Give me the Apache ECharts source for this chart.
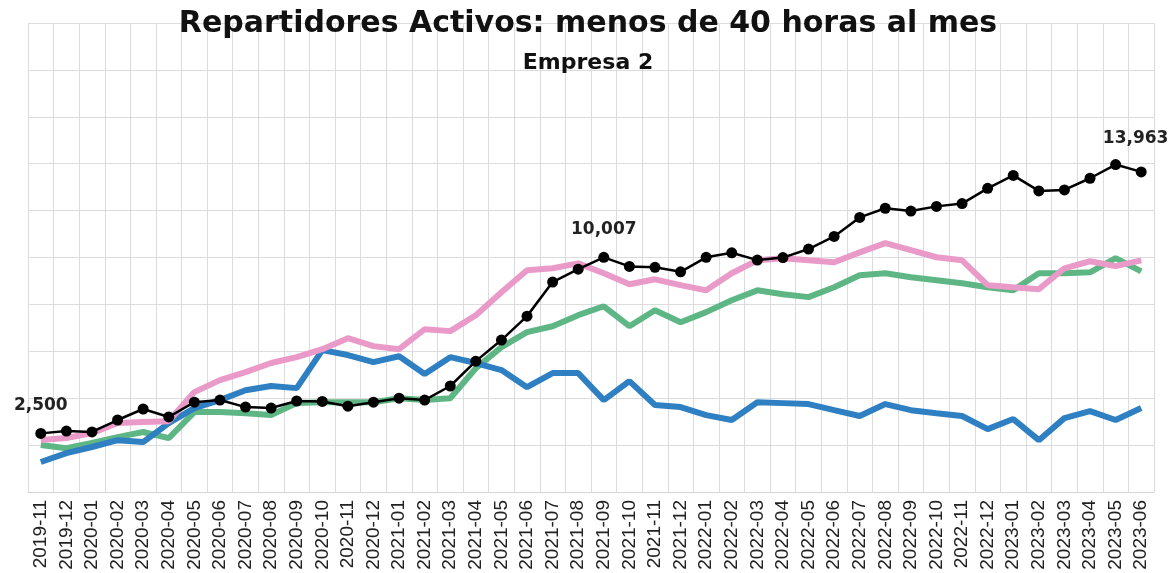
<!DOCTYPE html>
<html>
<head>
<meta charset="utf-8">
<script src="https://cdn.jsdelivr.net/npm/echarts@6/dist/echarts.min.js"></script>
<style>
  html, body { margin: 0; padding: 0; background: #fff; overflow: hidden; }
  #chart-container { width: 1176px; height: 573px; }
</style>
</head>
<body>
<div id="chart-container"></div>
<script>
var months = [
  "2019-11", "2019-12",
  "2020-01", "2020-02", "2020-03", "2020-04", "2020-05", "2020-06",
  "2020-07", "2020-08", "2020-09", "2020-10", "2020-11", "2020-12",
  "2021-01", "2021-02", "2021-03", "2021-04", "2021-05", "2021-06",
  "2021-07", "2021-08", "2021-09", "2021-10", "2021-11", "2021-12",
  "2022-01", "2022-02", "2022-03", "2022-04", "2022-05", "2022-06",
  "2022-07", "2022-08", "2022-09", "2022-10", "2022-11", "2022-12",
  "2023-01", "2023-02", "2023-03", "2023-04", "2023-05", "2023-06"
];

// linea negra con puntos (total)
var totalValues = [
  2500, 2600, 2560, 3070, 3540, 3200, 3830, 3920, 3620, 3580, 3880, 3860,
  3660, 3830, 4000, 3920, 4520, 5580, 6480, 7500, 8950, 9500, 10007, 9620,
  9580, 9390, 10007, 10200, 9890, 9995, 10360, 10900, 11710, 12100, 11980, 12180,
  12300, 12950, 13500, 12840, 12880, 13380, 13963, 13650
];

var pinkValues = [
  2215, 2300, 2510, 2940, 2980, 3020, 4260, 4770, 5110, 5500, 5750, 6090,
  6560, 6220, 6090, 6940, 6860, 7540, 8520, 9460, 9540, 9750, 9330, 8860,
  9070, 8820, 8600, 9330, 9880, 9970, 9880, 9800, 10220, 10610, 10310, 10010,
  9880, 8820, 8730, 8650, 9540, 9840, 9630, 9880
];

var greenValues = [
  2000, 1870, 2090, 2340, 2560, 2300, 3410, 3410, 3360, 3280, 3790, 3830,
  3830, 3830, 4000, 3920, 4000, 5280, 6180, 6820, 7070, 7540, 7920, 7070,
  7750, 7240, 7670, 8180, 8600, 8430, 8310, 8730, 9240, 9330, 9160, 9030,
  8900, 8730, 8600, 9330, 9330, 9370, 9970, 9410
];

var blueValues = [
  1280, 1660, 1920, 2210, 2130, 2940, 3580, 3920, 4340, 4520, 4430, 6050,
  5840, 5540, 5790, 5030, 5750, 5500, 5200, 4470, 5070, 5070, 3920, 4730,
  3710, 3620, 3280, 3070, 3830, 3790, 3750, 3490, 3240, 3750, 3490, 3360,
  3240, 2680, 3110, 2210, 3150, 3450, 3070, 3580
];

// puntos con etiqueta
var labeledIdx = [0, 22, 42];

var totalData = totalValues.map(function (v, i) {
  if (labeledIdx.indexOf(i) >= 0) {
    var lbl = { show: true, position: "top", distance: 14 };
    if (i === 42) lbl.offset = [20, 2];
    return { value: v, label: lbl };
  }
  return v;
});

var dom = document.getElementById("chart-container");
var myChart = echarts.init(dom, null, { renderer: "canvas" });

var option = {
  backgroundColor: "#ffffff",
  animation: false,
  title: [
    {
      text: "Repartidores Activos: menos de 40 horas al mes",
      left: "center",
      top: 4,
      textStyle: {
        fontFamily: "DejaVu Sans",
        fontWeight: "bold",
        fontSize: 30,
        color: "#111"
      }
    },
    {
      text: "Empresa 2",
      left: "center",
      top: 47,
      textStyle: {
        fontFamily: "DejaVu Sans",
        fontWeight: "bold",
        fontSize: 22,
        color: "#111"
      }
    }
  ],
  grid: { left: 28, right: 22, top: 23, bottom: 81 },
  xAxis: {
    type: "category",
    data: months,
    boundaryGap: true,
    axisLine: { lineStyle: { color: "#d4d4d4" } },
    axisTick: { show: false },
    axisLabel: {
      interval: 0,
      rotate: 90,
      margin: 8,
      fontFamily: "Liberation Sans",
      fontSize: 19,
      color: "#222"
    },
    splitLine: { show: true, lineStyle: { color: "#dcdcdc", width: 1 } }
  },
  yAxis: {
    type: "value",
    min: 0,
    max: 20000,
    interval: 2000,
    axisLabel: { show: false },
    axisLine: { show: false },
    axisTick: { show: false },
    splitLine: { lineStyle: { color: "#dcdcdc", width: 1 } }
  },
  series: [
    {
      name: "verde",
      type: "line",
      data: greenValues,
      symbol: "none",
      lineStyle: { color: "#5fb685", width: 6 },
      itemStyle: { color: "#5fb685" },
      z: 2
    },
    {
      name: "azul",
      type: "line",
      data: blueValues,
      symbol: "none",
      lineStyle: { color: "#2f7fc3", width: 6 },
      itemStyle: { color: "#2f7fc3" },
      z: 3
    },
    {
      name: "rosa",
      type: "line",
      data: pinkValues,
      symbol: "none",
      lineStyle: { color: "#e99ac8", width: 6 },
      itemStyle: { color: "#e99ac8" },
      z: 4
    },
    {
      name: "total",
      type: "line",
      data: totalData,
      symbol: "circle",
      symbolSize: 11,
      lineStyle: { color: "#000", width: 2.5 },
      itemStyle: { color: "#000" },
      label: {
        show: false,
        fontFamily: "DejaVu Sans",
        fontWeight: "bold",
        fontSize: 17,
        color: "#222",
        formatter: function (p) {
          return p.value.toLocaleString("en-US");
        }
      },
      z: 5
    }
  ]
};

myChart.setOption(option);
window.addEventListener("resize", myChart.resize);
</script>
</body>
</html>
